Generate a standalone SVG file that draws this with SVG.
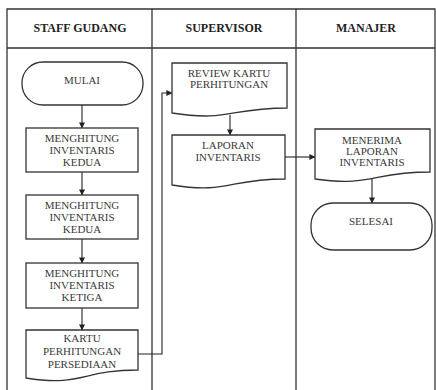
<svg xmlns="http://www.w3.org/2000/svg" width="436" height="390" viewBox="0 0 436 390">
  <style>
    .lane { fill: none; stroke: #333; stroke-width: 1.3; }
    .head { font-family: "Liberation Serif", "Times New Roman", serif; font-size: 12px; font-weight: bold; fill: #222; text-anchor: middle; }
    .shape { fill: #fff; stroke: #333; stroke-width: 1.3; }
    .lbl { font-family: "Liberation Serif", "Times New Roman", serif; font-size: 11px; fill: #3a3a3a; text-anchor: middle; dominant-baseline: central; }
    .conn { fill: none; stroke: #222; stroke-width: 1.1; }
  </style>
  <defs>
    <marker id="arrow" viewBox="0 0 8 8" refX="7.5" refY="4" markerWidth="6" markerHeight="6" markerUnits="userSpaceOnUse" orient="auto">
      <path d="M0,0 L8,4 L0,8 Z" fill="#222"/>
    </marker>
  </defs>

  <rect width="436" height="390" fill="#fff"/>

  <!-- swimlane frame -->
  <g id="lanes">
    <path class="lane" d="M7,390 V9 H435 V390 M7,48 H435 M152,9 V390 M296,9 V390"/>
    <text class="head" x="80" y="32">STAFF GUDANG</text>
    <text class="head" x="224" y="32">SUPERVISOR</text>
    <text class="head" x="366" y="32">MANAJER</text>
  </g>

  <!-- connectors -->
  <g id="connectors">
    <path class="conn" d="M82,105 V128" marker-end="url(#arrow)"/>
    <path class="conn" d="M82,172 V195" marker-end="url(#arrow)"/>
    <path class="conn" d="M82,239 V263" marker-end="url(#arrow)"/>
    <path class="conn" d="M82,308 V330" marker-end="url(#arrow)"/>
    <path class="conn" d="M138,354 H162 V93 H172" marker-end="url(#arrow)"/>
    <path class="conn" d="M230,115 V135" marker-end="url(#arrow)"/>
    <path class="conn" d="M285,157 H315" marker-end="url(#arrow)"/>
    <path class="conn" d="M372,177 V203" marker-end="url(#arrow)"/>
  </g>

  <g id="mulai">
    <rect class="shape" x="22" y="62" width="121" height="43" rx="21" ry="21"/>
    <text class="lbl" x="82" y="80">MULAI</text>
  </g>

  <g id="hitung-1">
    <rect class="shape" x="26" y="128" width="112" height="44"/>
    <text class="lbl" x="82" y="138">MENGHITUNG</text>
    <text class="lbl" x="82" y="150">INVENTARIS</text>
    <text class="lbl" x="82" y="162">KEDUA</text>
  </g>

  <g id="hitung-2">
    <rect class="shape" x="26" y="195" width="112" height="44"/>
    <text class="lbl" x="82" y="205">MENGHITUNG</text>
    <text class="lbl" x="82" y="217">INVENTARIS</text>
    <text class="lbl" x="82" y="229">KEDUA</text>
  </g>

  <g id="hitung-3">
    <rect class="shape" x="26" y="263" width="112" height="45"/>
    <text class="lbl" x="82" y="273">MENGHITUNG</text>
    <text class="lbl" x="82" y="285">INVENTARIS</text>
    <text class="lbl" x="82" y="297">KETIGA</text>
  </g>

  <g id="kartu">
    <path class="shape" d="M26,330 H138 V370 C82,370 82,387 26,378 Z"/>
    <text class="lbl" x="82" y="338">KARTU</text>
    <text class="lbl" x="82" y="351">PERHITUNGAN</text>
    <text class="lbl" x="82" y="364">PERSEDIAAN</text>
  </g>

  <g id="review">
    <path class="shape" d="M172,63 H287 V108 C229,108 229,122 172,113 Z"/>
    <text class="lbl" x="229" y="73">REVIEW KARTU</text>
    <text class="lbl" x="229" y="84">PERHITUNGAN</text>
  </g>

  <g id="laporan">
    <path class="shape" d="M172,135 H285 V179 C228,179 228,194 172,185 Z"/>
    <text class="lbl" x="228" y="145">LAPORAN</text>
    <text class="lbl" x="228" y="157">INVENTARIS</text>
  </g>

  <g id="menerima">
    <path class="shape" d="M315,129 H430 V172 C372,172 372,187 315,179 Z"/>
    <text class="lbl" x="372" y="140">MENERIMA</text>
    <text class="lbl" x="372" y="151">LAPORAN</text>
    <text class="lbl" x="372" y="162">INVENTARIS</text>
  </g>

  <g id="selesai">
    <rect class="shape" x="311" y="203" width="121" height="47" rx="22" ry="22"/>
    <text class="lbl" x="371" y="221">SELESAI</text>
  </g>
</svg>
